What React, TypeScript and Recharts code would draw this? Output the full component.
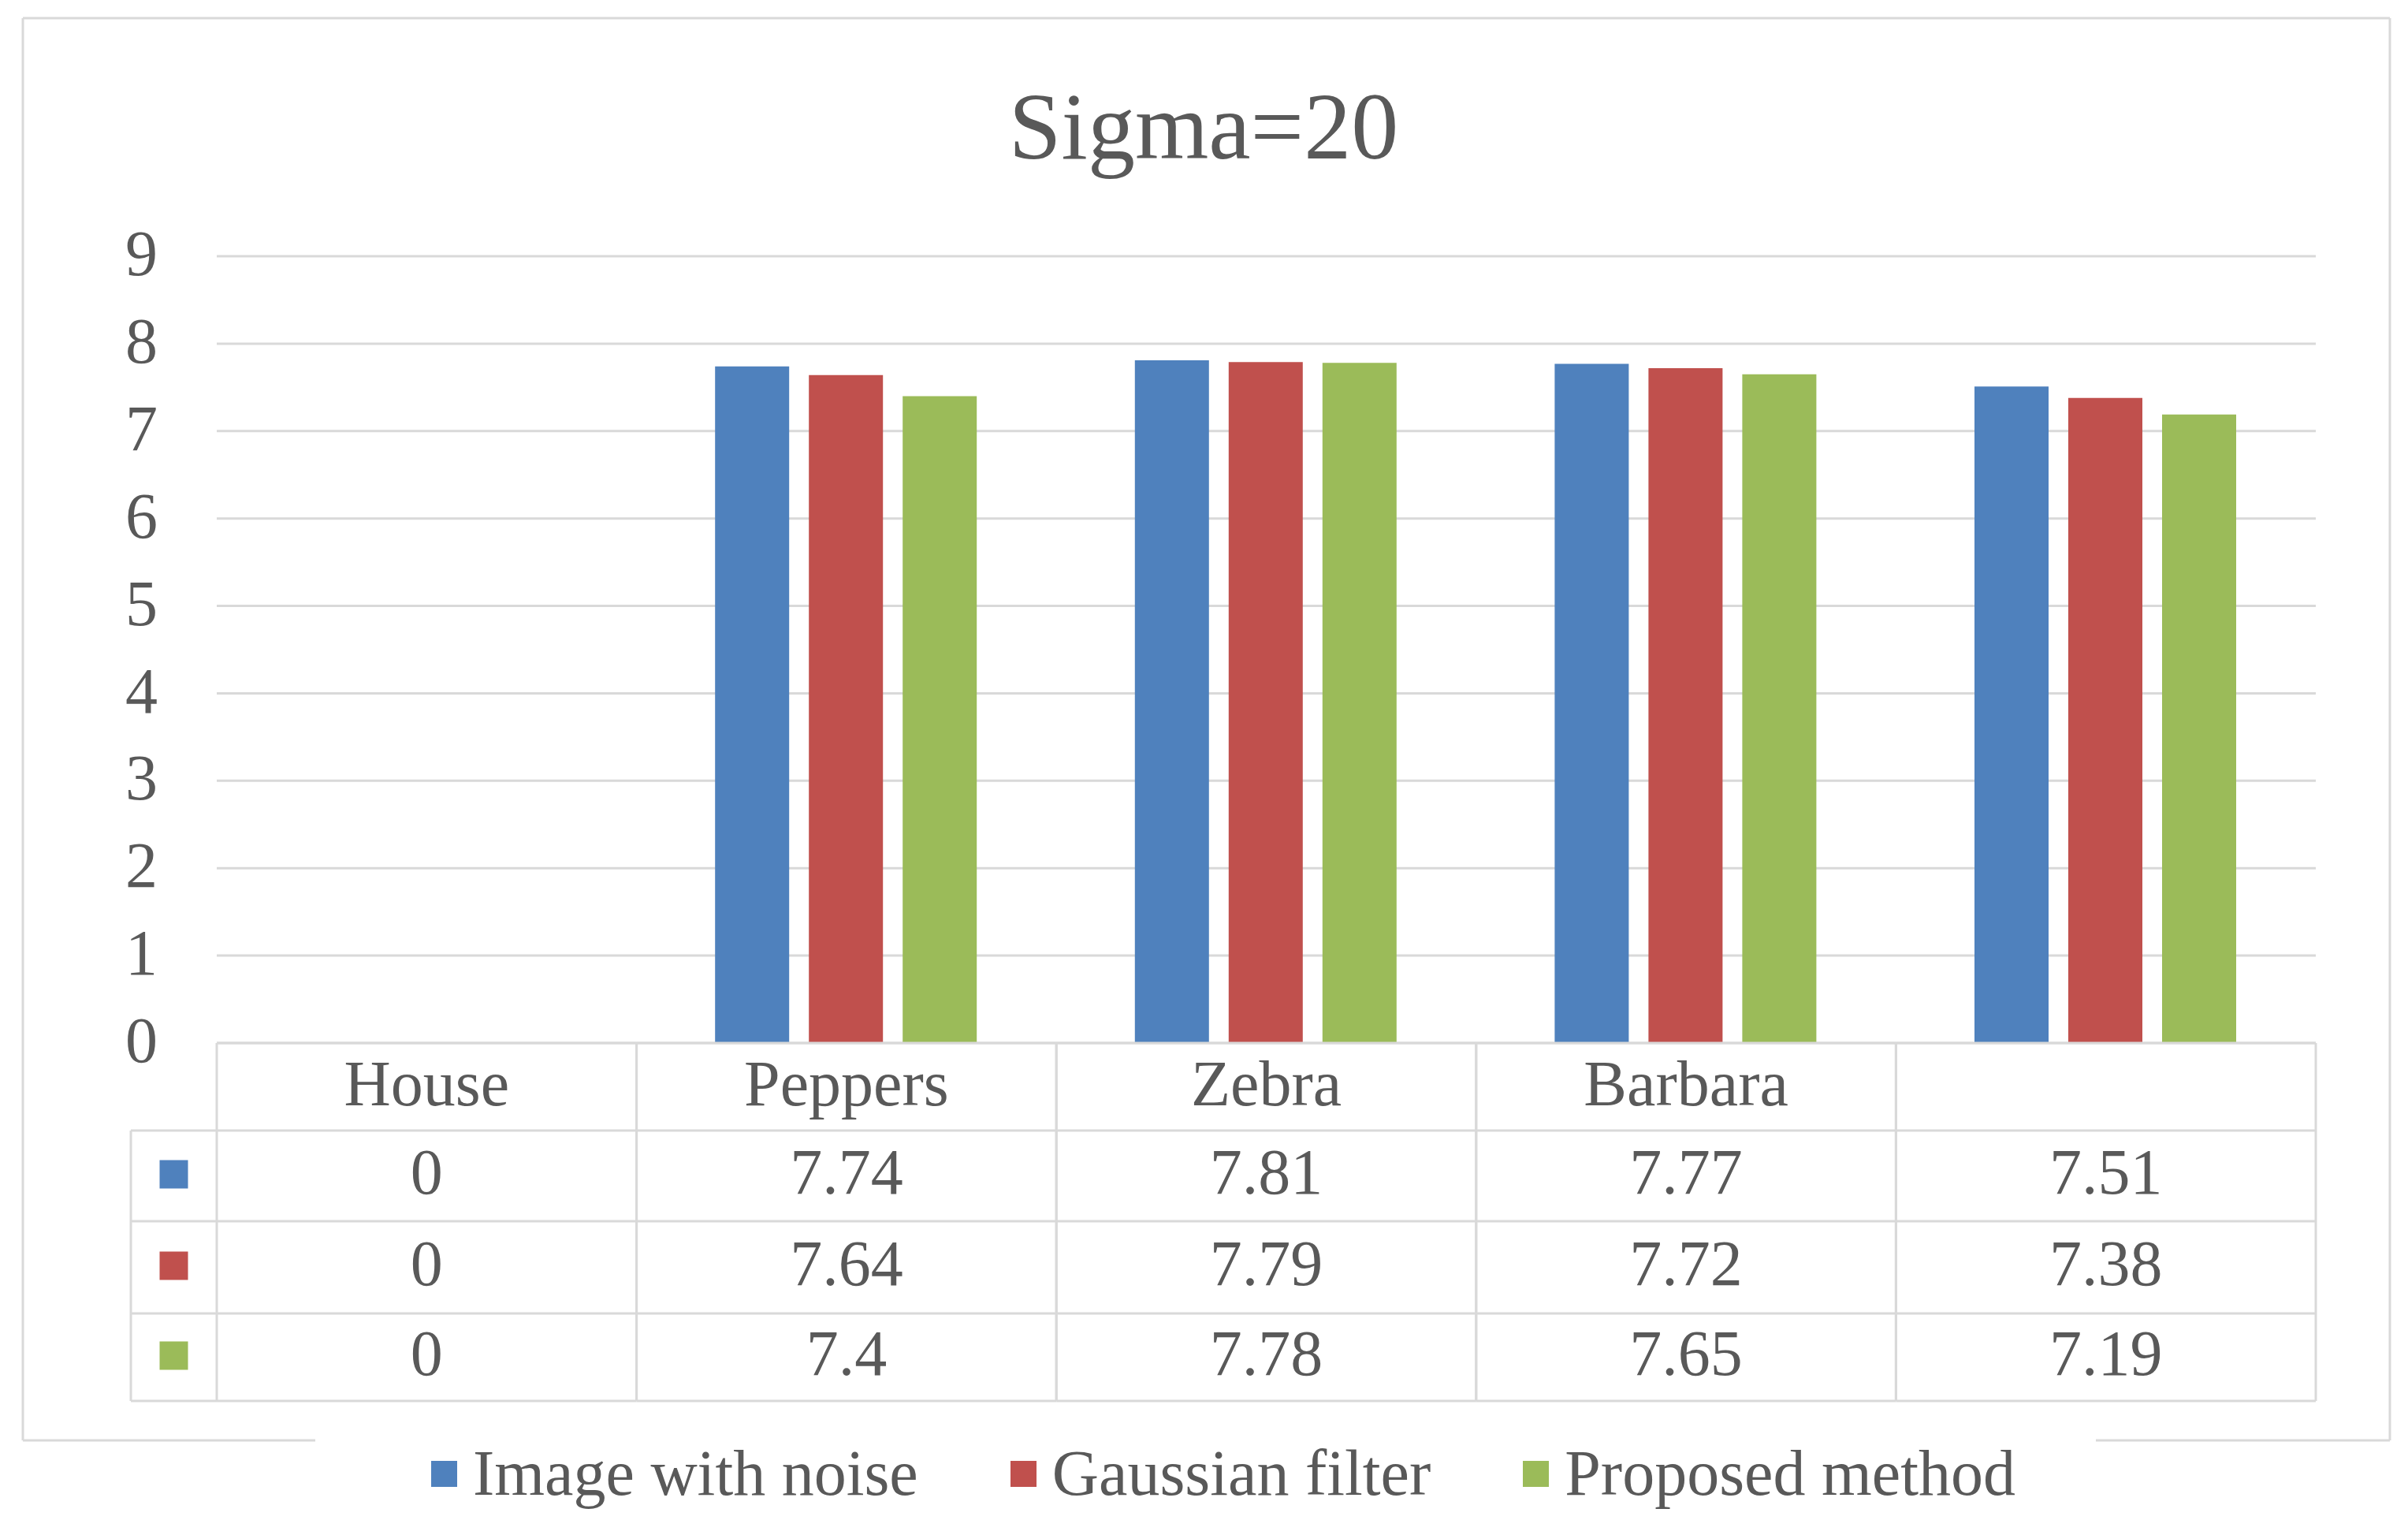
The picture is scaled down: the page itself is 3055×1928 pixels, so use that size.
import React from 'react';
import { BarChart, Bar, XAxis, YAxis, CartesianGrid, Legend } from 'recharts';

const categories = ['House', 'Peppers', 'Zebra', 'Barbara', ''];
const imageWithNoise = [0, 7.74, 7.81, 7.77, 7.51];
const gaussianFilter = [0, 7.64, 7.79, 7.72, 7.38];
const proposedMethod = [0, 7.4, 7.78, 7.65, 7.19];
const seriesNames = ['Image with noise', 'Gaussian filter', 'Proposed method'];
const seriesColors = ['#4F81BD', '#C0504D', '#9BBB59'];
const yTicks = [0, 1, 2, 3, 4, 5, 6, 7, 8, 9];
const chartTitle = 'Sigma=20';

const seriesValues = [imageWithNoise, gaussianFilter, proposedMethod];
const data = categories.map((name, i) => ({
  name,
  s0: imageWithNoise[i],
  s1: gaussianFilter[i],
  s2: proposedMethod[i],
}));

const W = 3055;
const H = 1928;
const FONT = "'Liberation Serif', 'DejaVu Serif', serif";
const TEXT = '#595959';
const LINE = '#d9d9d9';
const ROWS = [0, 111, 226, 343, 454];
const KEY_W = 109;

const TableTick = (props: any) => {
  const { x, y, payload, index } = props;
  const half = payload && payload.offset > 0 ? payload.offset : 266;
  const left = x - half;
  const right = x + half;
  const bottom = y + ROWS[ROWS.length - 1];
  const els: any[] = [];
  els.push(<line key="top" x1={left} x2={right} y1={y} y2={y} stroke={LINE} strokeWidth={3} />);
  els.push(<line key="vl" x1={left} x2={left} y1={y} y2={bottom} stroke={LINE} strokeWidth={3} />);
  els.push(<line key="vr" x1={right} x2={right} y1={y} y2={bottom} stroke={LINE} strokeWidth={3} />);
  for (let r = 1; r < ROWS.length; r++) {
    els.push(
      <line key={'h' + r} x1={index === 0 ? left - KEY_W : left} x2={right} y1={y + ROWS[r]} y2={y + ROWS[r]} stroke={LINE} strokeWidth={3} />
    );
  }
  if (index === 0) {
    els.push(<line key="kl" x1={left - KEY_W} x2={left - KEY_W} y1={y + ROWS[1]} y2={bottom} stroke={LINE} strokeWidth={3} />);
    seriesColors.forEach((c, s) => {
      const cy = y + (ROWS[s + 1] + ROWS[s + 2]) / 2;
      els.push(<rect key={'k' + s} x={left - KEY_W / 2 - 18} y={cy - 20} width={36} height={36} fill={c} />);
    });
  }
  els.push(
    <text key="hdr" x={x} y={y + (ROWS[0] + ROWS[1]) / 2} dy="0.29em" textAnchor="middle" fill={TEXT} fontSize={82} fontFamily={FONT}>
      {payload.value}
    </text>
  );
  seriesValues.forEach((vals, s) => {
    els.push(
      <text key={'v' + s} x={x} y={y + (ROWS[s + 1] + ROWS[s + 2]) / 2} dy="0.27em" textAnchor="middle" fill={TEXT} fontSize={82} fontFamily={FONT}>
        {String(vals[index])}
      </text>
    );
  });
  return <g>{els}</g>;
};

const renderLegend = (props: any) => {
  const payload = [...(props.payload || [])].sort(
    (a: any, b: any) => seriesNames.indexOf(a.value) - seriesNames.indexOf(b.value)
  );
  return (
    <div style={{ display: 'flex', alignItems: 'center', fontFamily: FONT, fontSize: 82, lineHeight: '90px', color: TEXT, whiteSpace: 'nowrap' }}>
      {payload.map((e: any, i: number) => (
        <div key={i} style={{ display: 'flex', alignItems: 'center', marginRight: 117 }}>
          <span style={{ width: 33, height: 33, background: e.color, marginRight: 20, display: 'inline-block' }} />
          {e.value}
        </div>
      ))}
    </div>
  );
};

export default function App() {
  return (
    <div style={{ position: 'absolute', left: 0, top: 0, width: W, height: H, background: '#fff' }}>
      <BarChart
        width={W}
        height={H}
        data={data}
        margin={{ top: 325, right: 117, bottom: 150, left: 0 }}
        barCategoryGap="18.7%"
        barGap={25}
      >
        <CartesianGrid vertical={false} stroke={LINE} strokeWidth={3} />
        <XAxis
          dataKey="name"
          height={455}
          axisLine={false}
          tickLine={false}
          tickSize={0}
          tickMargin={0}
          interval={0}
          tick={<TableTick />}
        />
        <YAxis
          width={275}
          domain={[0, 9]}
          ticks={yTicks}
          interval={0}
          axisLine={false}
          tickLine={false}
          tickSize={0}
          tickMargin={75}
          tick={{ fill: TEXT, fontSize: 82, fontFamily: FONT, dy: -5 }}
        />
        <Legend
          layout="vertical"
          align="center"
          verticalAlign="middle"
          content={renderLegend}
          wrapperStyle={{ position: 'absolute', top: 1824, left: 547, width: 'auto', height: 'auto' }}
        />
        {seriesNames.map((n, s) => (
          <Bar key={n} dataKey={'s' + s} name={n} fill={seriesColors[s]} isAnimationActive={false} />
        ))}
      </BarChart>
      <svg width={W} height={H} style={{ position: 'absolute', left: 0, top: 0, pointerEvents: 'none' }}>
        <text x={1527} y={201} textAnchor="middle" fill={TEXT} fontSize={120} fontFamily={FONT}>
          {chartTitle}
        </text>
        <line x1={29} x2={3032} y1={23} y2={23} stroke={LINE} strokeWidth={3} />
        <line x1={29} x2={29} y1={23} y2={1827} stroke={LINE} strokeWidth={3} />
        <line x1={3032} x2={3032} y1={23} y2={1827} stroke={LINE} strokeWidth={3} />
        <line x1={29} x2={400} y1={1827} y2={1827} stroke={LINE} strokeWidth={3} />
        <line x1={2659} x2={3032} y1={1827} y2={1827} stroke={LINE} strokeWidth={3} />
      </svg>
    </div>
  );
}
